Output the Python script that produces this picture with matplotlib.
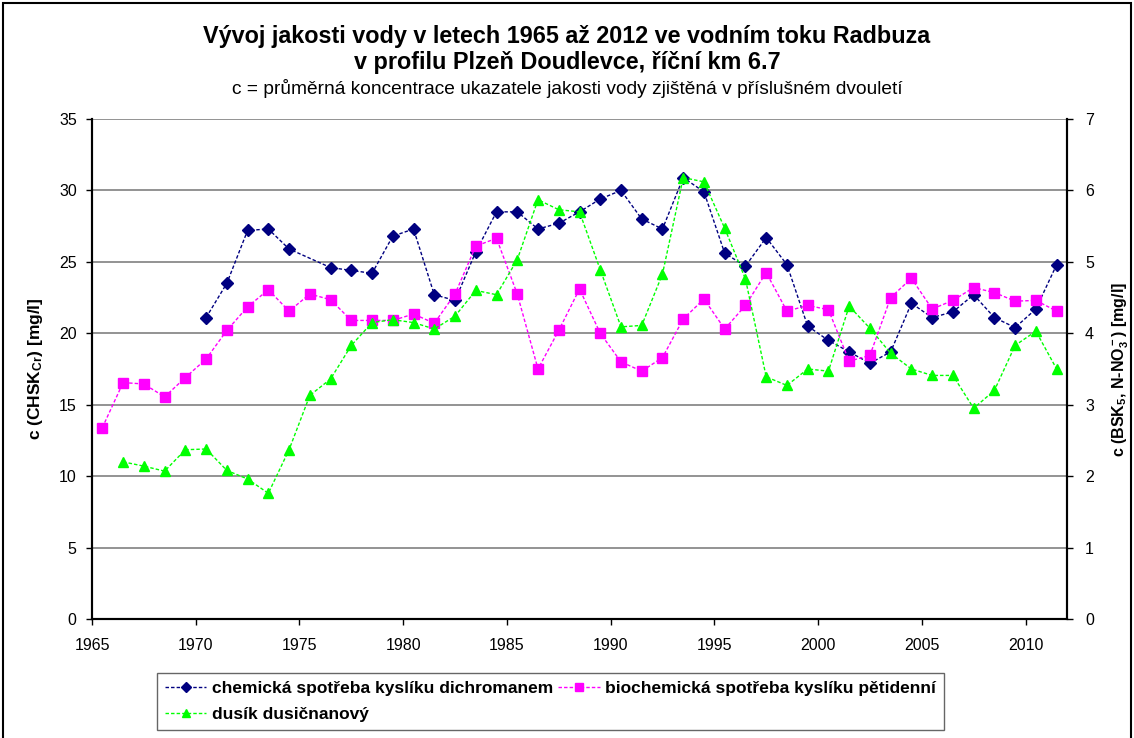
import numpy as np
import matplotlib
matplotlib.use("Agg")
import matplotlib.pyplot as plt
from matplotlib.patches import Rectangle

plt.rcParams['font.family'] = ['Liberation Sans', 'DejaVu Sans']
plt.rcParams['mathtext.fontset'] = 'custom'
plt.rcParams['mathtext.rm'] = 'Liberation Sans:bold'
plt.rcParams['mathtext.default'] = 'rm'

# roky (stred dvouleti), 1965.5 .. 2011.5
roky = np.arange(1965, 2012) + 0.5

nan = np.nan
# CHSK_Cr [mg/l], leva osa
chsk = [nan, nan, nan, nan, nan,
        21.1, 23.5, 27.2, 27.3, 25.9, nan, 24.6, 24.4, 24.2, 26.8,
        27.3, 22.7, 22.3, 25.7, 28.5, 28.5, 27.3, 27.7, 28.5, 29.4,
        30.0, 28.0, 27.3, 30.9, 29.9, 25.6, 24.7, 26.7, 24.8, 20.5,
        19.5, 18.7, 17.9, 18.7, 22.1, 21.1, 21.5, 22.7, 21.1, 20.4,
        21.7, 24.8]

# BSK_5 [mg/l], prava osa
bsk5 = [2.68, 3.31, 3.29, 3.11, 3.38,
        3.64, 4.04, 4.37, 4.61, 4.31, 4.55, 4.47, 4.18, 4.18, 4.18,
        4.27, 4.14, 4.55, 5.22, 5.33, 4.55, 3.50, 4.04, 4.62, 4.00,
        3.60, 3.47, 3.66, 4.20, 4.48, 4.06, 4.39, 4.85, 4.31, 4.39,
        4.33, 3.61, 3.69, 4.50, 4.77, 4.34, 4.46, 4.64, 4.57, 4.45,
        4.46, 4.31]

# N-NO3 [mg/l], prava osa
no3 = [nan, 2.20, 2.14, 2.07, 2.37,
       2.38, 2.08, 1.96, 1.76, 2.37, 3.13, 3.36, 3.83, 4.15, 4.19,
       4.15, 4.06, 4.24, 4.60, 4.54, 5.03, 5.87, 5.73, 5.70, 4.89,
       4.09, 4.11, 4.83, 6.18, 6.12, 5.47, 4.76, 3.39, 3.27, 3.50,
       3.47, 4.38, 4.07, 3.72, 3.50, 3.41, 3.41, 2.95, 3.20, 3.83,
       4.03, 3.50]

nazvy = ["chemická spotřeba kyslíku dichromanem",
         "biochemická spotřeba kyslíku pětidenní",
         "dusík dusičnanový"]

x_ticks = [1965, 1970, 1975, 1980, 1985, 1990, 1995, 2000, 2005, 2010]


def bez_nan(x, y):
    y = np.asarray(y, float)
    ok = ~np.isnan(y)
    return x[ok], y[ok]


fig = plt.figure(figsize=(11.34, 7.38), dpi=100)
ax = fig.add_axes([92 / 1134, 119 / 738, 975 / 1134, 500 / 738])
ax2 = ax.twinx()

ax.set_xlim(1965, 2012)
ax.set_ylim(0, 35)
ax2.set_ylim(0, 7)
ax.set_yticks(range(0, 36, 5))
ax2.set_yticks(range(0, 8))
ax.set_xticks(x_ticks)

# vodorovna mrizka
for v in range(5, 36, 5):
    ax.axhline(v, color='#808080', lw=1.2, zorder=0)

ls = (0, (2.5, 1.5))
x, y = bez_nan(roky, chsk)
l1, = ax.plot(x, y, color='#000080', lw=1, ls=ls, marker='D', ms=6.5,
              markeredgecolor='#000080', label=nazvy[0], zorder=3)
x, y = bez_nan(roky, bsk5)
l2, = ax2.plot(x, y, color='#FF00FF', lw=1, ls=ls, marker='s', ms=6.5,
               markeredgecolor='#FF00FF', label=nazvy[1], zorder=3)
x, y = bez_nan(roky, no3)
l3, = ax2.plot(x, y, color='#00FF00', lw=1, ls=ls, marker='^', ms=7,
               markeredgecolor='#00FF00', label=nazvy[2], zorder=3)

for a in (ax, ax2):
    a.spines['top'].set_visible(False)
    for s in ('left', 'right', 'bottom'):
        a.spines[s].set_color('black')
        a.spines[s].set_linewidth(1.5)
    a.tick_params(direction='out', length=4, width=1, labelsize=11.5, colors='black')
ax.tick_params(axis='x', pad=10)
ax.tick_params(axis='y', pad=7)
ax2.tick_params(axis='y', pad=9)

ax.set_ylabel(r"c (CHSK$_{\rm Cr}$) [mg/l]", fontsize=12.5, fontweight='bold', labelpad=10)
ax2.set_ylabel(r"c (BSK$_{\rm 5}$, N-NO$_{\rm 3}^{\rm -}$) [mg/l]", fontsize=11.5,
               fontweight='bold', labelpad=12)

fig.text(0.5, 1 - 37 / 738, "Vývoj jakosti vody v letech 1965 až 2012 ve vodním toku Radbuza",
         ha='center', va='center', fontsize=16.8, fontweight='bold')
fig.text(0.5, 1 - 62 / 738, "v profilu Plzeň Doudlevce, říční km 6.7",
         ha='center', va='center', fontsize=16.8, fontweight='bold')
fig.text(0.5, 1 - 88 / 738,
         "c = průměrná koncentrace ukazatele jakosti vody zjištěná v příslušném dvouletí",
         ha='center', va='center', fontsize=13.8)

leg = fig.legend([l1, l3, l2], [nazvy[0], nazvy[2], nazvy[1]], ncol=2,
                 loc='lower left', bbox_to_anchor=(157 / 1134, 8 / 738),
                 borderaxespad=0,
                 prop={'weight': 'bold', 'size': 12.5}, frameon=True, fancybox=False,
                 edgecolor='#404040', handlelength=2.4, handletextpad=0.3,
                 columnspacing=0.3, borderpad=0.45, labelspacing=0.65, markerscale=0.8)
leg.get_frame().set_linewidth(1)

# ramecek kolem celeho grafu
fig.patches.append(Rectangle((3 / 1134, -0.01), 1128 / 1134, 1 - 3 / 738 + 0.01,
                             transform=fig.transFigure, fill=False,
                             edgecolor='black', lw=1.5))

fig.savefig("out.png", dpi=100)
